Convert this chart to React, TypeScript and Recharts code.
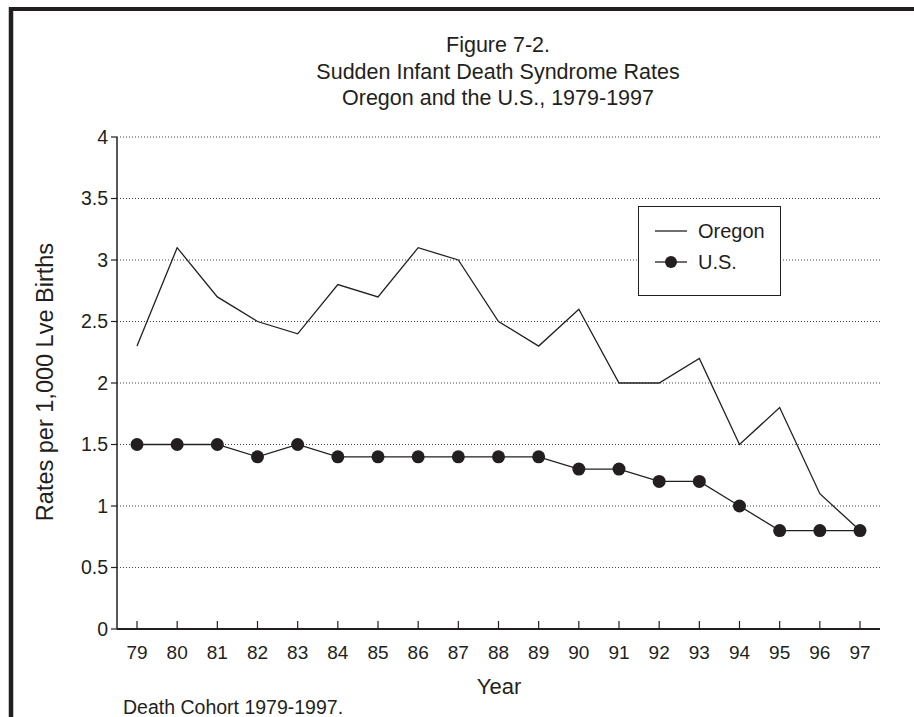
import React from 'react';
import { LineChart, Line, XAxis, YAxis, CartesianGrid, Legend } from 'recharts';

const years = ['79', '80', '81', '82', '83', '84', '85', '86', '87', '88', '89', '90', '91', '92', '93', '94', '95', '96', '97'];
const oregonRates = [2.3, 3.1, 2.7, 2.5, 2.4, 2.8, 2.7, 3.1, 3.0, 2.5, 2.3, 2.6, 2.0, 2.0, 2.2, 1.5, 1.8, 1.1, 0.8];
const usRates = [1.5, 1.5, 1.5, 1.4, 1.5, 1.4, 1.4, 1.4, 1.4, 1.4, 1.4, 1.3, 1.3, 1.2, 1.2, 1.0, 0.8, 0.8, 0.8];
const yTicks = [0, 0.5, 1, 1.5, 2, 2.5, 3, 3.5, 4];

const titleLines = ['Figure 7-2.', 'Sudden Infant Death Syndrome Rates', 'Oregon and the U.S., 1979-1997'];

const INK = '#231f20';
const FONT = '"Liberation Sans", Arial, Helvetica, sans-serif';

const data = years.map((year, i) => ({
  year,
  oregon: oregonRates[i],
  us: usRates[i],
}));

// x ticks point up into the plot, labels sit below
const YearTick = (props: any) => {
  const { x, y, payload } = props;
  return (
    <g>
      <line x1={x} y1={y} x2={x} y2={y - 8} stroke={INK} strokeWidth={1.2} />
      <text x={x} y={y + 30} textAnchor="middle" fill={INK} fontSize={19} fontFamily={FONT}>
        {payload.value}
      </text>
    </g>
  );
};

const LegendBox = (props: any) => {
  const { payload = [] } = props;
  return (
    <div
      style={{
        width: 143,
        height: 90,
        border: `1.5px solid ${INK}`,
        background: '#fff',
        boxSizing: 'border-box',
        position: 'relative',
      }}
    >
      {payload.map((entry: any, i: number) => (
        <div key={entry.value} style={{ position: 'absolute', left: 0, top: 10 + i * 31, height: 28, width: '100%' }}>
          <svg width={50} height={28} style={{ position: 'absolute', left: 0, top: 0 }}>
            <line x1={16} y1={14} x2={48} y2={14} stroke={INK} strokeWidth={1.3} />
            {entry.dataKey === 'us' && <circle cx={32} cy={14} r={6} fill={INK} />}
          </svg>
          <span
            style={{
              position: 'absolute',
              left: 59,
              top: 1,
              fontSize: 20,
              fontFamily: FONT,
              color: INK,
              lineHeight: '26px',
            }}
          >
            {entry.value}
          </span>
        </div>
      ))}
    </div>
  );
};

export default function App() {
  return (
    <div style={{ position: 'absolute', left: 0, top: 0, width: 914, height: 717, background: '#fff', overflow: 'hidden' }}>
      <LineChart
        width={914}
        height={717}
        data={data}
        margin={{ top: 137, right: 34, bottom: 58, left: 57 }}
      >
        <CartesianGrid vertical={false} stroke="#444" strokeDasharray="1 2" />
        <XAxis
          dataKey="year"
          padding={{ left: 20, right: 20 }}
          axisLine={{ stroke: INK, strokeWidth: 2 }}
          tickLine={false}
          tickSize={0}
          tickMargin={0}
          tick={<YearTick />}
          height={30}
          interval={0}
        />
        <YAxis
          domain={[0, 4]}
          ticks={yTicks}
          width={60}
          axisLine={{ stroke: INK, strokeWidth: 1.5 }}
          tickLine={{ stroke: INK, strokeWidth: 1.2 }}
          tickSize={6}
          tickMargin={3}
          tick={{ fill: INK, fontSize: 19.5, fontFamily: FONT }}
        />
        <YAxis
          yAxisId="frame"
          orientation="right"
          width={0}
          tick={false}
          tickLine={false}
          axisLine={{ stroke: INK, strokeWidth: 1.5 }}
        />
        <Legend
          layout="vertical"
          verticalAlign="middle"
          align="center"
          content={<LegendBox />}
          wrapperStyle={{ position: 'absolute', left: 638, top: 206, width: 143, height: 90 }}
        />
        <Line
          type="linear"
          dataKey="oregon"
          name="Oregon"
          stroke={INK}
          strokeWidth={1.3}
          dot={false}
          activeDot={false}
          isAnimationActive={false}
        />
        <Line
          type="linear"
          dataKey="us"
          name="U.S."
          stroke={INK}
          strokeWidth={1.3}
          dot={{ r: 6.5, fill: INK, stroke: INK, strokeWidth: 0 }}
          activeDot={false}
          isAnimationActive={false}
        />
      </LineChart>
      <svg
        width={914}
        height={717}
        style={{ position: 'absolute', left: 0, top: 0, pointerEvents: 'none' }}
      >
        <line x1={9} y1={9} x2={914} y2={9} stroke={INK} strokeWidth={4} />
        <line x1={11} y1={7} x2={11} y2={717} stroke={INK} strokeWidth={4.5} />
        {titleLines.map((t, i) => (
          <text key={t} x={498} y={52 + i * 26.5} textAnchor="middle" fill={INK} fontSize={21.5} fontFamily={FONT}>
            {t}
          </text>
        ))}
        <text
          x={53}
          y={382}
          transform="rotate(-90 53 382)"
          textAnchor="middle"
          fill={INK}
          fontSize={23.5}
          fontFamily={FONT}
        >
          Rates per 1,000 Lve Births
        </text>
        <text x={499} y={694} textAnchor="middle" fill={INK} fontSize={22} fontFamily={FONT}>
          Year
        </text>
        <text x={123} y={714} fill={INK} fontSize={19.5} fontFamily={FONT}>
          Death Cohort 1979-1997.
        </text>
      </svg>
    </div>
  );
}
